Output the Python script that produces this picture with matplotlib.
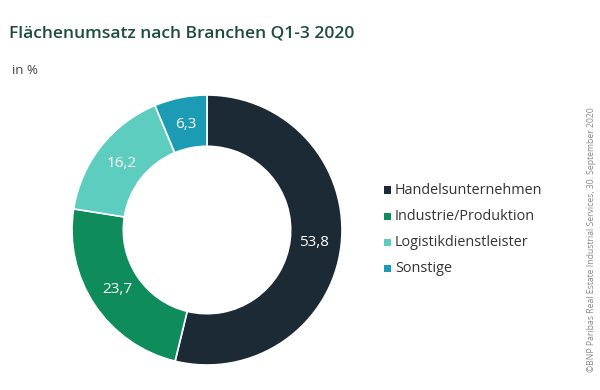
import matplotlib
matplotlib.use("Agg")
import matplotlib.pyplot as plt
from matplotlib.patches import Rectangle
import numpy as np

plt.rcParams['font.family'] = ['Open Sans', 'DejaVu Sans']

categories = ["Handelsunternehmen", "Industrie/Produktion", "Logistikdienstleister", "Sonstige"]
values = [53.8, 23.7, 16.2, 6.3]
value_labels = ["53,8", "23,7", "16,2", "6,3"]
colors = ["#1c2a35", "#0f8c5c", "#5dcdc0", "#1b9cb4"]

fig = plt.figure(figsize=(6, 3.9), dpi=100)
fig.patch.set_facecolor("white")

fig.text(9/600, 1 - 34/390, "Flächenumsatz nach Branchen Q1-3 2020", fontsize=12.6,
         color="#1f4d3d", va="center", ha="left", fontweight="semibold")
fig.text(12/600, 1 - 70/390, "in %", fontsize=9.5, color="#444444", va="center", ha="left")

ax = fig.add_axes([(207-135)/600, (390-365)/390, 270/600, 270/390])
wedges, _ = ax.pie(values, colors=colors, startangle=90, counterclock=False,
                   wedgeprops=dict(width=0.38, edgecolor="white", linewidth=1.2))
start = 90.0
for v, lab in zip(values, value_labels):
    ang = np.deg2rad(start - v * 3.6 / 2)
    r = 0.8
    ax.text(r * np.cos(ang), r * np.sin(ang), lab, color="white", fontsize=11,
            ha="center", va="center")
    start -= v * 3.6
ax.set_aspect("equal")
ax.set_xlim(-1, 1)
ax.set_ylim(-1, 1)

ys = [190, 216, 242, 268]
for cat, col, y in zip(categories, colors, ys):
    yf = 1 - y/390
    fig.patches.append(Rectangle((384/600, yf - 3.5/390), 7/600, 7/390,
                                 transform=fig.transFigure, facecolor=col, edgecolor="none"))
    fig.text(395/600, yf, cat, fontsize=10.4, color="#333333", va="center", ha="left")

fig.text(591/600, 1 - 240/390, "©BNP Paribas Real Estate Industrial Services, 30. September 2020",
         fontsize=6.2, color="#888888", rotation=90, va="center", ha="center")

fig.savefig("out.png", dpi=100, facecolor="white")
